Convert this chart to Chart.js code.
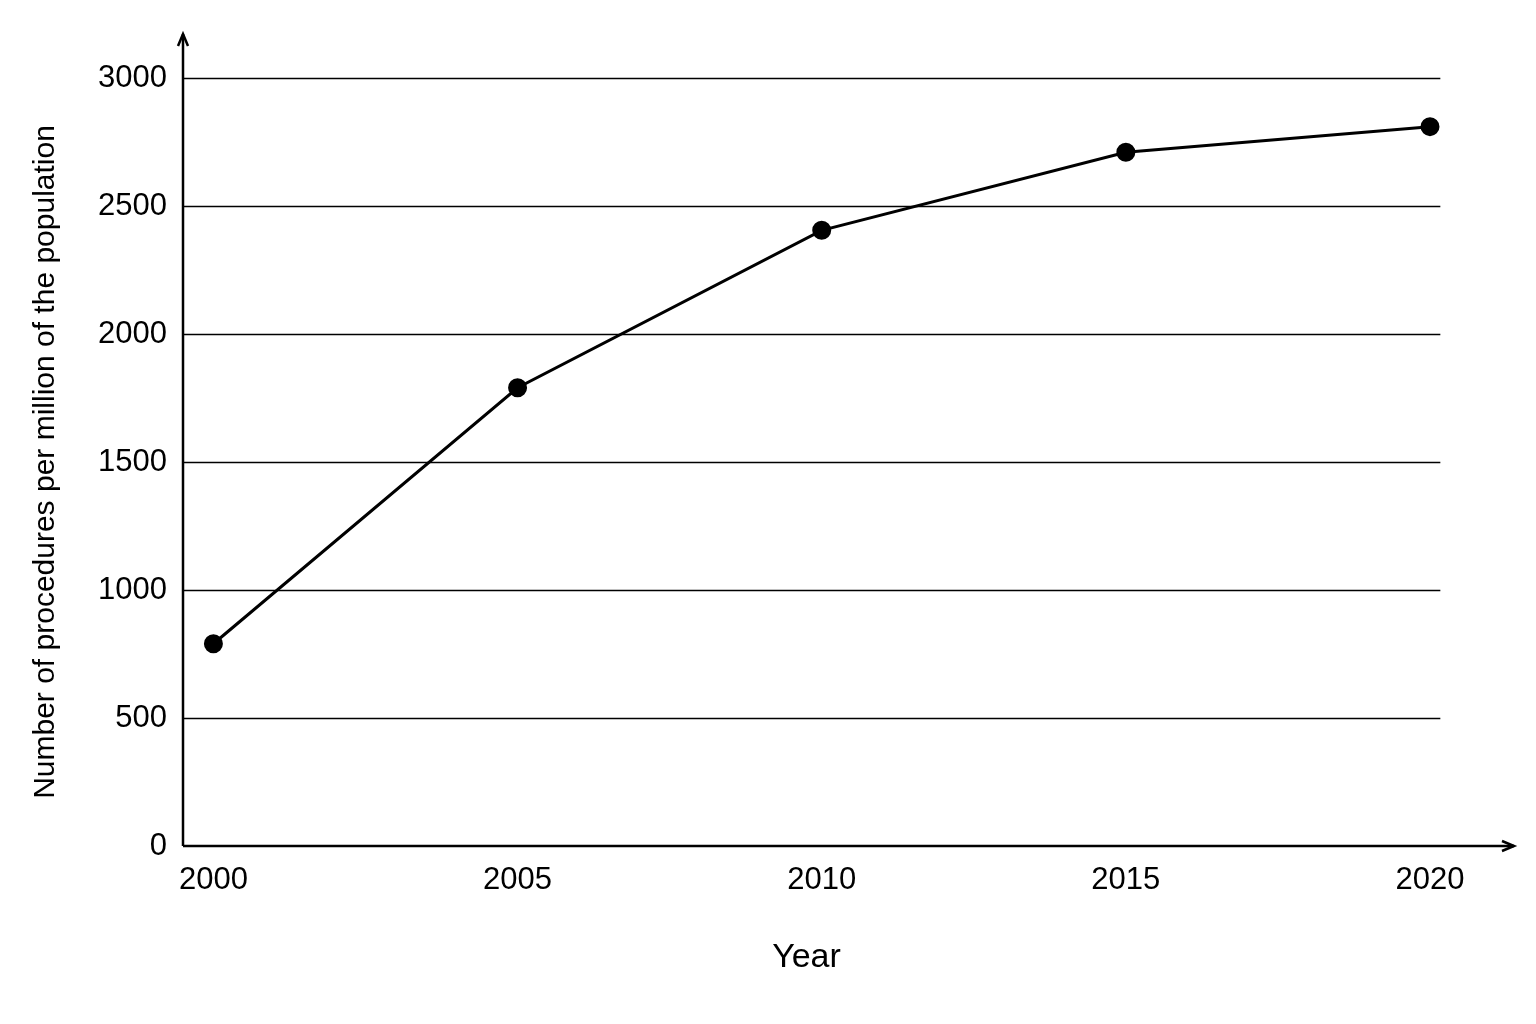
<!DOCTYPE html>
<html><head><meta charset="utf-8">
<script src="https://cdn.jsdelivr.net/npm/chart.js@4/dist/chart.umd.min.js"></script>
<style>html,body{margin:0;background:#fff}#wrap{width:1536px;height:1024px}</style>
</head><body><div id="wrap"><canvas id="c"></canvas></div>
<script>
const years = [2000, 2005, 2010, 2015, 2020];
const procedures = [790, 1790, 2405, 2710, 2810];
const yTicks = [0, 500, 1000, 1500, 2000, 2500, 3000];
const FONT = '"Liberation Sans Narrow", "Liberation Sans", Arial, sans-serif';

// axes with arrows + gridlines ending short of the arrow
const axesPlugin = {
  id: 'axes',
  beforeDatasetsDraw(ch) {
    const { ctx, chartArea: a, scales: { x, y } } = ch;
    ctx.save();
    ctx.strokeStyle = '#000';
    ctx.lineWidth = 1.5;
    const gx = x.getPixelForValue(2020.17);
    yTicks.slice(1).forEach(v => {
      const py = Math.round(y.getPixelForValue(v)) + 0.5;
      ctx.beginPath(); ctx.moveTo(a.left, py); ctx.lineTo(gx, py); ctx.stroke();
    });
    ctx.lineWidth = 2.5;
    const ax = a.left, ay = a.bottom, xe = 1514, ye = 34;
    ctx.beginPath(); ctx.moveTo(ax, ay); ctx.lineTo(ax, ye); ctx.stroke();
    ctx.beginPath(); ctx.moveTo(ax - 5, ye + 12); ctx.lineTo(ax, ye); ctx.lineTo(ax + 5, ye + 12); ctx.stroke();
    ctx.beginPath(); ctx.moveTo(ax, ay); ctx.lineTo(xe, ay); ctx.stroke();
    ctx.beginPath(); ctx.moveTo(xe - 12, ay - 5); ctx.lineTo(xe, ay); ctx.lineTo(xe - 12, ay + 5); ctx.stroke();
    ctx.restore();
  }
};

new Chart(document.getElementById('c'), {
  type: 'line',
  data: {
    datasets: [{
      data: years.map((yr, i) => ({ x: yr, y: procedures[i] })),
      borderColor: '#000', borderWidth: 3,
      pointRadius: 8, pointBackgroundColor: '#000', pointBorderColor: '#000',
      tension: 0, clip: false
    }]
  },
  options: {
    responsive: true, maintainAspectRatio: false, animation: false,
    layout: { padding: { top: 78, right: 106, left: 0, bottom: 0 } },
    plugins: { legend: { display: false }, tooltip: { enabled: false } },
    scales: {
      x: {
        type: 'linear', min: 1999.5, max: 2020,
        afterBuildTicks: s => { s.ticks = years.map(v => ({ value: v })); },
        afterFit: s => { s.height = 178; },
        grid: { display: false, drawTicks: false }, border: { display: false },
        ticks: { color: '#000', padding: 16, font: { family: FONT, size: 31 }, callback: v => String(v) },
        title: { display: true, text: 'Year', color: '#000', font: { family: FONT, size: 34 }, padding: { top: 38, bottom: 46 } }
      },
      y: {
        min: 0, max: 3000,
        afterBuildTicks: s => { s.ticks = yTicks.map(v => ({ value: v })); },
        afterFit: s => { s.width = 183; },
        grid: { display: false, drawTicks: false }, border: { display: false },
        ticks: { color: '#000', padding: 16, font: { family: FONT, size: 31 }, callback: v => String(v) },
        title: { display: true, text: 'Number of procedures per million of the population', color: '#000', font: { family: FONT, size: 30 }, padding: { top: 28, bottom: 0 } }
      }
    }
  },
  plugins: [axesPlugin]
});
</script></body></html>
